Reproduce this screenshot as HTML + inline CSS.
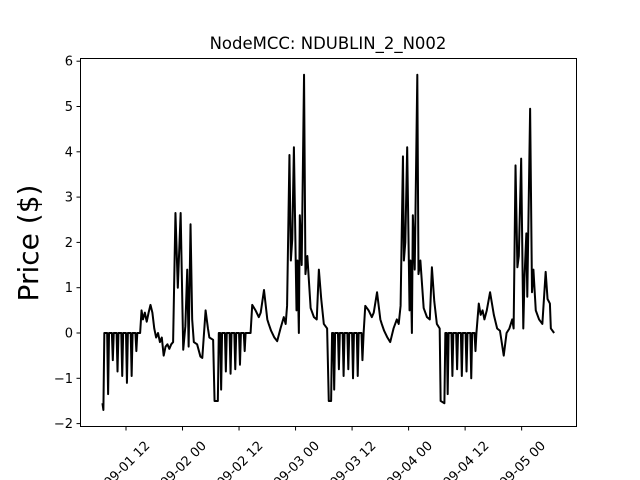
<!DOCTYPE html>
<html><head><meta charset="utf-8"><style>
html,body{margin:0;background:#fff;overflow:hidden;width:640px;height:480px;}
svg{display:block;font-family:"DejaVu Sans","Liberation Sans",sans-serif;overflow:hidden;}
</style></head><body>
<svg id="chart" width="640" height="480" viewBox="0 0 640 480">
<defs><clipPath id="frameclip"><rect x="0" y="0" width="640" height="480"/></clipPath></defs>
<rect x="0" y="0" width="640" height="480" fill="#fff"/>
<text x="328" y="49" font-size="16.5" text-anchor="middle">NodeMCC: NDUBLIN_2_N002</text>
<text transform="translate(38,243) rotate(-90)" font-size="28" text-anchor="middle">Price ($)</text>
<g id="plot"></g>
<rect x="80.5" y="58.5" width="496" height="368" fill="none" stroke="#000" stroke-width="1"/>
<g id="yaxis"></g>
<g id="xaxis" clip-path="url(#frameclip)"></g>
</svg>
<script>
const times = [7.0,7.2,7.4,8.0,8.2,8.4,9.0,9.2,9.4,10.0,10.2,10.4,11.0,11.2,11.4,12.0,12.2,12.4,13.0,13.2,13.4,14.0,14.2,14.4,15.0,15.3,15.6,16.0,16.4,16.8,17.2,17.6,18.0,18.4,18.8,19.2,19.6,20.0,20.4,20.8,21.2,21.6,22.0,22.5,23.0,23.6,24.15,24.6,25.0,25.3,25.7,26.05,26.4,27.1,27.8,28.2,28.9,29.4,29.7,30.5,30.8,31.5,31.7,32.0,32.2,32.4,33.0,33.2,33.4,34.0,34.2,34.4,35.0,35.2,35.4,36.0,36.2,36.4,37.0,37.2,37.4,38.45,38.8,39.5,40.2,40.6,41.3,42.0,42.3,42.8,43.5,44.1,44.8,45.5,45.9,46.2,46.7,47.0,47.3,47.65,48.2,48.4,48.7,48.9,49.3,49.8,50.1,50.5,51.2,51.9,52.5,52.95,53.45,54.0,54.7,55.05,55.55,55.75,56.0,56.2,56.4,57.0,57.2,57.4,58.0,58.2,58.4,59.0,59.2,59.4,60.0,60.2,60.4,61.0,61.2,61.4,62.0,62.2,62.45,62.8,63.5,64.2,64.6,65.3,66.0,66.3,66.8,67.5,68.1,68.8,69.5,69.9,70.3,70.8,71.0,71.3,71.7,72.2,72.4,72.7,72.9,73.3,73.85,74.1,74.5,75.2,75.9,76.5,76.95,77.45,78.0,78.6,78.8,79.6,79.8,80.1,80.3,80.5,81.1,81.3,81.5,82.1,82.3,82.5,83.1,83.3,83.5,84.1,84.3,84.5,85.1,85.3,85.5,86.0,86.2,86.4,86.9,87.3,87.7,88.1,88.6,89.3,90.1,90.8,91.4,92.2,92.8,93.4,94.0,94.3,94.7,95.1,95.4,95.9,96.35,96.6,97.0,97.2,97.8,98.2,98.5,99.0,99.7,100.4,101.1,101.5,102.0,102.2,102.9];
const prices = [-1.55,-1.7,0,0,-1.35,0,0,-0.6,0,0,-0.85,0,0,-0.95,0,0,-1.1,0,0,-0.95,0,0,-0.4,0,0,0.5,0.3,0.45,0.25,0.45,0.62,0.45,0.1,-0.1,0.0,-0.2,-0.1,-0.5,-0.3,-0.25,-0.35,-0.25,-0.2,2.65,1.0,2.65,-0.37,0.15,1.4,-0.3,2.4,0.3,-0.2,-0.25,-0.52,-0.55,0.5,0.1,-0.1,-0.15,-1.5,-1.5,0,0,-1.25,0,0,-0.85,0,0,-0.9,0,0,-0.8,0,0,-0.7,0,0,-0.4,0,0,0.62,0.5,0.35,0.45,0.95,0.3,0.2,0.05,-0.1,-0.18,0.1,0.35,0.2,0.6,3.93,1.6,2.07,4.1,0.5,1.6,0,2.6,1.5,5.7,1.3,1.7,0.55,0.35,0.3,1.4,0.75,0.2,0.1,-1.5,-1.5,0,0,-1.25,0,0,-0.8,0,0,-0.95,0,0,-0.8,0,0,-1.0,0,0,-0.95,0,0,-0.6,0,0.6,0.5,0.35,0.45,0.9,0.3,0.2,0.05,-0.1,-0.2,0.1,0.3,0.2,0.6,3.9,1.6,2.0,4.1,0.5,1.6,0,2.6,1.4,5.7,1.3,1.6,0.55,0.35,0.3,1.45,0.7,0.2,0.1,-1.5,-1.55,0,0,-1.35,0,0,-0.95,0,0,-0.8,0,0,-0.95,0,0,-0.85,0,0,-1.0,0,0,-0.4,0,0.65,0.4,0.5,0.3,0.5,0.9,0.4,0.1,0.05,-0.5,0,0.1,0.3,0.1,3.7,1.45,1.7,3.85,0.1,1.2,2.2,0.8,4.95,0.9,1.4,0.5,0.3,0.2,1.35,0.75,0.65,0.1,0.0];
const yTicks = [-2,-1,0,1,2,3,4,5,6];
const xTickHours = [12,24,36,48,60,72,84,96];
const xTickLabels = ["2015-09-01 12","2015-09-02 00","2015-09-02 12","2015-09-03 00","2015-09-03 12","2015-09-04 00","2015-09-04 12","2015-09-05 00"];

const NS = "http://www.w3.org/2000/svg";
function xs(h){ return 126 + (h - 12) * 4.71; }
function ys(v){ return 333 - v * 45.3; }

const plot = document.getElementById('plot');
let d = '';
for (let i = 0; i < times.length; i++) d += (i ? 'L' : 'M') + xs(times[i]).toFixed(2) + ',' + ys(prices[i]).toFixed(2);
const line = document.createElementNS(NS, 'path');
line.setAttribute('d', d);
line.setAttribute('fill', 'none');
line.setAttribute('stroke', '#000');
line.setAttribute('stroke-width', '2');
line.setAttribute('stroke-linejoin', 'round');


plot.appendChild(line);

const yaxis = document.getElementById('yaxis');
yTicks.forEach(v => {
  const y = ys(v);
  const t = document.createElementNS(NS, 'line');
  t.setAttribute('x1', 76.5); t.setAttribute('x2', 80.5);
  t.setAttribute('y1', y); t.setAttribute('y2', y);
  t.setAttribute('stroke', '#000');
  
  
  yaxis.appendChild(t);
  const tx = document.createElementNS(NS, 'text');
  tx.setAttribute('x', 73); tx.setAttribute('y', y + 4.5);
  tx.setAttribute('font-size', '13');
  tx.setAttribute('text-anchor', 'end');
  tx.textContent = v < 0 ? '\u2212' + (-v) : String(v);
  
  
  yaxis.appendChild(tx);
});

const xaxis = document.getElementById('xaxis');
xTickHours.forEach((h, i) => {
  const x = xs(h);
  const t = document.createElementNS(NS, 'line');
  t.setAttribute('x1', x); t.setAttribute('x2', x);
  t.setAttribute('y1', 426.5); t.setAttribute('y2', 430.5);
  t.setAttribute('stroke', '#000');
  
  
  xaxis.appendChild(t);
  const tx = document.createElementNS(NS, 'text');
  tx.setAttribute('transform', 'translate(' + (x - 12) + ',478) rotate(-45)');
  tx.setAttribute('font-size', '13');
  tx.setAttribute('text-anchor', 'middle');
  tx.setAttribute('dominant-baseline', 'central');
  tx.textContent = xTickLabels[i];
  
  
  xaxis.appendChild(tx);
});
</script>
</body></html>
